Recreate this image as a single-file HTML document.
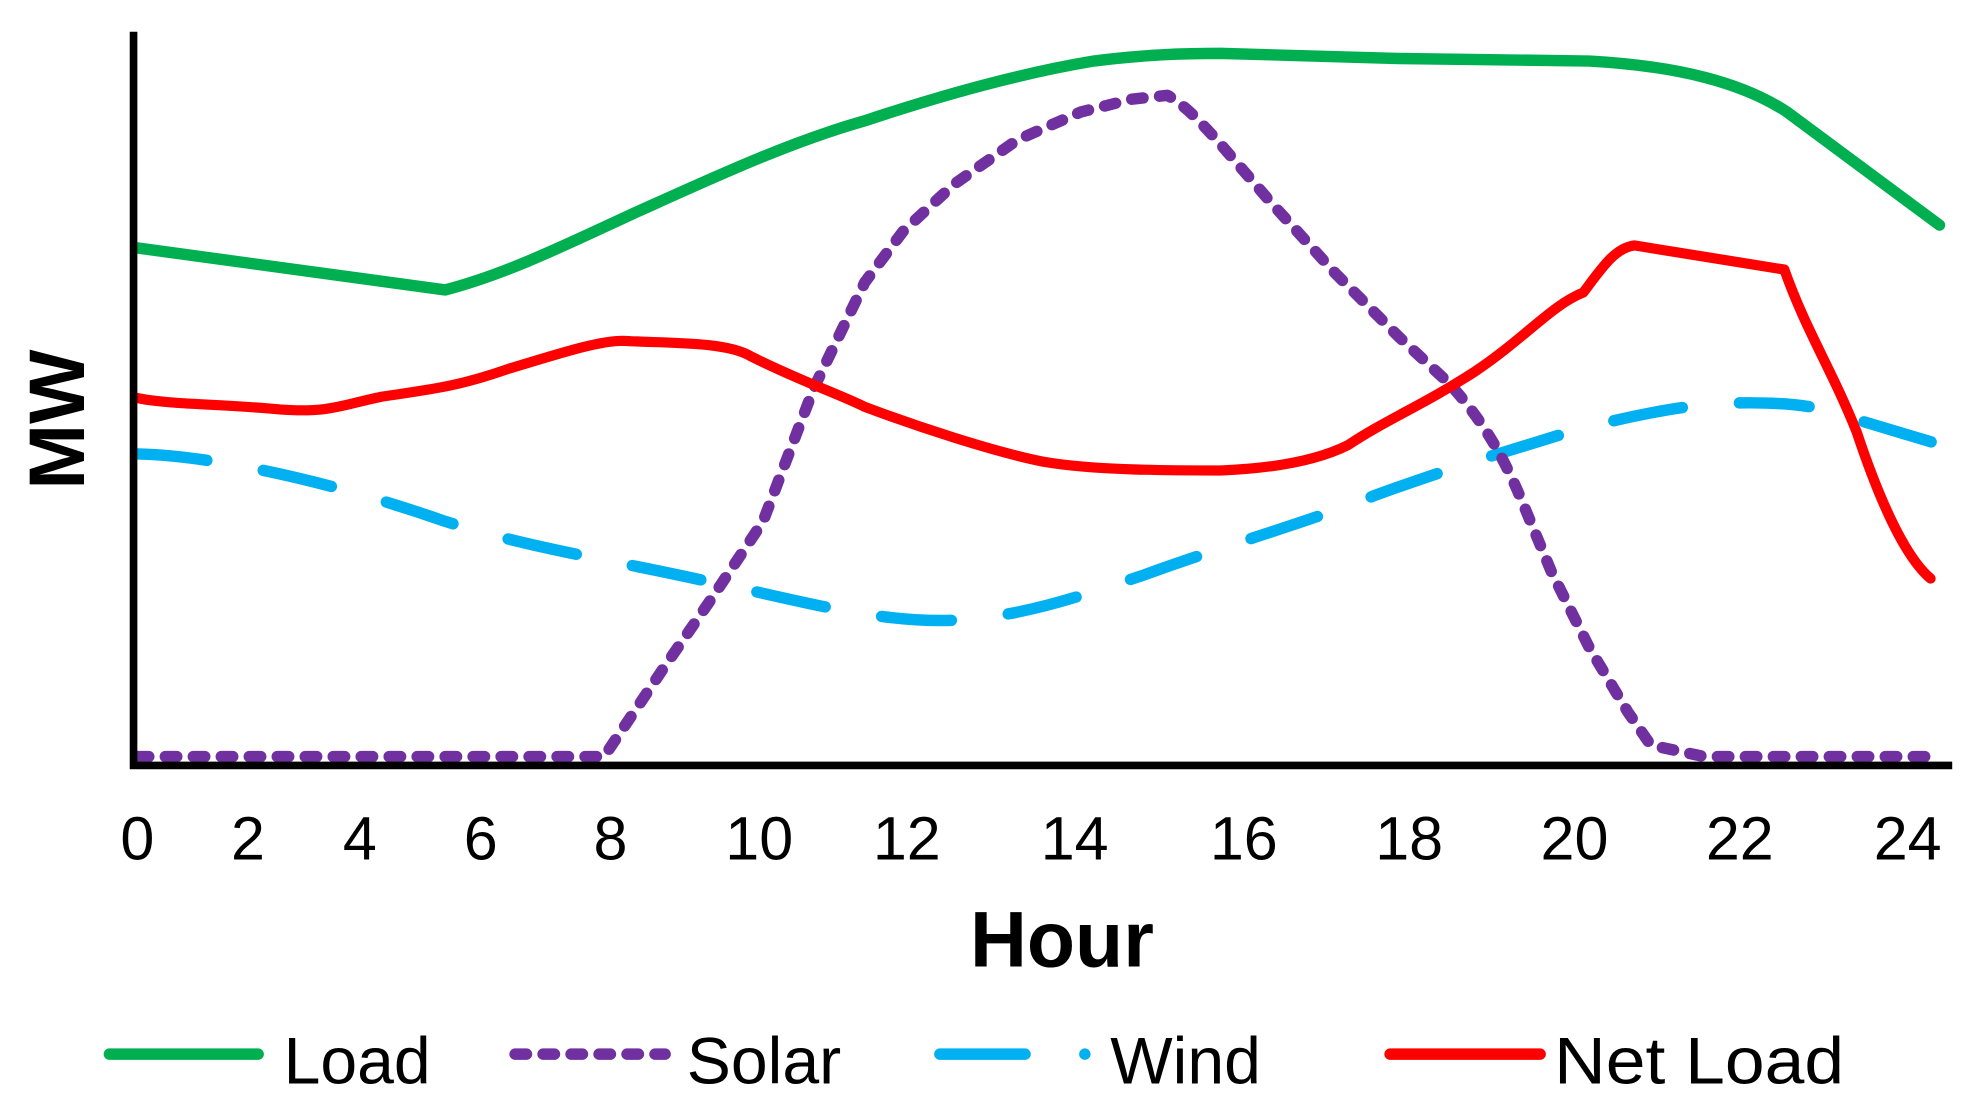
<!DOCTYPE html>
<html><head><meta charset="utf-8"><style>
html,body{margin:0;padding:0;background:#fff;}
svg{display:block;}
text{font-family:"Liberation Sans","DejaVu Sans",sans-serif;fill:#000;}
</style></head><body>
<svg width="1984" height="1105" viewBox="0 0 1560 869" preserveAspectRatio="none" xmlns="http://www.w3.org/2000/svg">
<rect width="1560" height="869" fill="#fff"/>
<g fill="none" stroke-linecap="round" stroke-linejoin="round">
<path d="M108,195 L350,228 C400,215 450,190 500,167 C560,140 620,112 680,95 C740,75 800,58 860,48 C900,43 930,42 960,42 L1100,46 L1250,48 C1320,52 1370,65 1405,88 L1525,177" stroke="#00B050" stroke-width="9"/>
<path d="M108,357 C160,358 250,375 350,410 C420,432 480,440 560,458 C620,470 680,488 740,488 C800,488 860,465 900,452 C960,430 1030,410 1080,390 C1140,368 1200,350 1240,338 C1290,325 1330,318 1360,317 C1400,316 1430,318 1460,330 L1520,348" stroke="#00B0F0" stroke-width="9" stroke-dasharray="55 45"/>
<path d="M108,595 L475,595 L520,528 L560,470 L600,410 L640,305 L680,222 L710,182 L750,145 L800,110 L850,88 L890,78 L918,75 C935,85 945,98 955,108 L1000,160 L1050,215 L1100,265 L1140,302 C1165,330 1180,355 1195,390 L1220,450 L1250,510 L1280,560 L1298,586 L1340,595 L1520,595" stroke="#7030A0" stroke-width="9" stroke-dasharray="9 13"/>
<path d="M108,313 C130,318 180,318 220,322 C260,325 270,318 300,312 C340,306 360,304 400,290 C440,278 470,268 490,268 C520,270 570,268 590,280 C630,300 660,310 680,320 C720,335 780,355 820,363 C860,370 920,370 960,370 C1010,368 1040,360 1060,350 C1090,330 1120,318 1160,292 C1200,265 1220,240 1245,230 C1260,210 1270,195 1285,193 L1403,212 C1420,260 1440,290 1460,340 C1480,400 1500,440 1518,455" stroke="#FF0000" stroke-width="8"/>
</g>
<path d="M105,25 L105,602 L1535,602" fill="none" stroke="#000" stroke-width="6"/>
<g font-size="48" text-anchor="middle">
<text x="108" y="676">0</text><text x="195" y="676">2</text><text x="283" y="676">4</text><text x="378" y="676">6</text><text x="480" y="676">8</text><text x="597" y="676">10</text><text x="713" y="676">12</text><text x="845" y="676">14</text><text x="978" y="676">16</text><text x="1108" y="676">18</text><text x="1238" y="676">20</text><text x="1368" y="676">22</text><text x="1500" y="676">24</text>
</g>
<text x="835" y="760" font-size="62" font-weight="bold" text-anchor="middle">Hour</text>
<text transform="translate(66,330) rotate(-90)" font-size="62" font-weight="bold" text-anchor="middle">MW</text>
<g stroke-linecap="round" fill="none" stroke-width="9">
<path d="M86,829 L203,829" stroke="#00B050"/>
<path d="M405,829 L523,829" stroke="#7030A0" stroke-dasharray="9 13"/>
<path d="M739,829 L806,829 M853,829 L853,829" stroke="#00B0F0"/>
<path d="M1093,829 L1211,829" stroke="#FF0000"/>
</g>
<g font-size="52">
<text x="223" y="852">Load</text>
<text x="540" y="852">Solar</text>
<text x="873" y="852">Wind</text>
<text x="1222" y="852" textLength="228" lengthAdjust="spacingAndGlyphs">Net Load</text>
</g>
</svg>
</body></html>
